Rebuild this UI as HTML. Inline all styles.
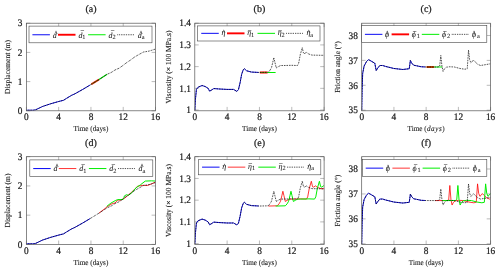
<!DOCTYPE html>
<html><head><meta charset="utf-8"><title>plots</title>
<style>html,body{margin:0;padding:0;background:#fff}svg{display:block;will-change:transform}</style></head>
<body>
<svg width="500" height="272" viewBox="0 0 500 272">
<style>
text{font-family:"Liberation Serif","DejaVu Serif",serif;fill:#1a1a1a;stroke:#1a1a1a;stroke-width:0.22px;text-rendering:geometricPrecision}
.t{font-size:10px}
.ti{font-size:10px}
.l{font-size:7.7px;stroke-width:0.1px}
.m{font-size:7.9px;stroke-width:0.05px}
.s{font-size:6.3px}
.a{font-size:6.4px;stroke-width:0.1px}
</style>
<rect width="500" height="272" fill="#fff"/>
<g>
<path d="M26.40 110.80v-3.9M26.40 23.20v3.9M58.67 110.80v-3.9M58.67 23.20v3.9M90.95 110.80v-3.9M90.95 23.20v3.9M123.22 110.80v-3.9M123.22 23.20v3.9M155.50 110.80v-3.9M155.50 23.20v3.9M26.40 110.80h3.9M155.50 110.80h-3.9M26.40 81.60h3.9M155.50 81.60h-3.9M26.40 52.40h3.9M155.50 52.40h-3.9M26.40 23.20h3.9M155.50 23.20h-3.9" stroke="#777" stroke-width="0.5" fill="none"/>
<clipPath id="c00"><rect x="26.4" y="23.2" width="129.1" height="87.6"/></clipPath>
<g clip-path="url(#c00)" fill="none" stroke-linejoin="round">
<path d="M26.40 110.22L33.26 110.22L35.68 109.78L39.31 108.03L42.54 106.48L50.61 103.79L58.67 101.51L63.52 100.29L66.74 98.24L71.58 95.32L74.81 93.86L82.88 89.34L90.14 85.00" stroke="#1515f5" stroke-width="1.0"/>
<path d="M91.35 84.27L99.02 79.56" stroke="#ff0000" stroke-width="1.9"/>
<path d="M91.35 84.27L99.02 79.56" stroke="rgba(0,238,0,0.55)" stroke-width="1.0"/>
<path d="M99.02 79.56L107.09 74.30" stroke="#00ee00" stroke-width="1.1"/>
<path d="M26.40 110.22L33.26 110.22L35.68 109.78L39.31 108.03L42.54 106.48L50.61 103.79L58.67 101.51L63.52 100.29L66.74 98.24L71.58 95.32L74.81 93.86L82.88 89.34L90.95 84.52L99.02 79.56L107.09 74.30L111.12 72.55L115.16 69.92L119.19 68.17L123.22 65.25L126.45 62.77L130.49 60.08L134.52 57.07L137.51 55.32L139.60 54.15L143.40 52.05L145.82 51.67L149.04 51.09L151.47 50.36L155.50 49.04" stroke="#000" stroke-width="1.0" stroke-dasharray="0.7 0.95"/>
</g>
<rect x="26.40" y="23.20" width="129.10" height="87.60" fill="none" stroke="#555" stroke-width="0.7"/>
<text class="t" transform="translate(26.40 119.60) scale(0.93 1)" text-anchor="middle">0</text>
<text class="t" transform="translate(58.67 119.60) scale(0.93 1)" text-anchor="middle">4</text>
<text class="t" transform="translate(90.95 119.60) scale(0.93 1)" text-anchor="middle">8</text>
<text class="t" transform="translate(123.22 119.60) scale(0.93 1)" text-anchor="middle">12</text>
<text class="t" transform="translate(155.50 119.60) scale(0.93 1)" text-anchor="middle">16</text>
<text class="t" transform="translate(22.50 114.00) scale(0.93 1)" text-anchor="end">0</text>
<text class="t" transform="translate(22.50 84.80) scale(0.93 1)" text-anchor="end">1</text>
<text class="t" transform="translate(22.50 55.60) scale(0.93 1)" text-anchor="end">2</text>
<text class="t" transform="translate(22.50 26.40) scale(0.93 1)" text-anchor="end">3</text>
<text class="ti" x="90.95" y="12.30" text-anchor="middle">(a)</text>
<text class="l" transform="translate(90.95 131.10) scale(0.935 1)" text-anchor="middle">Time (days)</text>
<text class="l" transform="translate(10.00 67.00) rotate(-90) scale(0.975 1)" text-anchor="middle">Displacement (m)</text>
<rect x="29.00" y="26.10" width="123.00" height="16.70" fill="#fff" stroke="#444" stroke-width="0.6"/>
<path d="M32.40 34.75h17.5" stroke="#1515f5" stroke-width="1.05" fill="none"/>
<text class="m" x="52.80" y="37.55"><tspan font-style="italic">d</tspan></text>
<text class="a" x="56.10" y="34.65" text-anchor="middle">^</text>
<path d="M58.00 34.75h17.5" stroke="#ff0000" stroke-width="1.9" fill="none"/>
<text class="m" x="78.40" y="37.55"><tspan font-style="italic">d</tspan><tspan class="s" dy="1.3" dx="0">1</tspan></text>
<text class="a" x="82.40" y="35.25" text-anchor="middle">¯</text>
<path d="M88.10 34.75h17.5" stroke="#00ee00" stroke-width="1.0" fill="none"/>
<text class="m" x="108.50" y="37.55"><tspan font-style="italic">d</tspan><tspan class="s" dy="1.3" dx="0">2</tspan></text>
<text class="a" x="112.50" y="35.25" text-anchor="middle">¯</text>
<path d="M117.40 34.75h17.5" stroke="#000" stroke-width="0.9" fill="none" stroke-dasharray="0.75 1.0"/>
<text class="m" x="137.80" y="37.55"><tspan font-style="italic">d</tspan><tspan class="s" dy="1.3" dx="0">a</tspan></text>
<text class="a" x="141.10" y="34.65" text-anchor="middle">^</text>
</g>
<g>
<path d="M194.80 110.80v-3.9M194.80 23.20v3.9M227.12 110.80v-3.9M227.12 23.20v3.9M259.45 110.80v-3.9M259.45 23.20v3.9M291.78 110.80v-3.9M291.78 23.20v3.9M324.10 110.80v-3.9M324.10 23.20v3.9M194.80 110.04h3.9M324.10 110.04h-3.9M194.80 88.33h3.9M324.10 88.33h-3.9M194.80 66.62h3.9M324.10 66.62h-3.9M194.80 44.91h3.9M324.10 44.91h-3.9M194.80 23.20h3.9M324.10 23.20h-3.9" stroke="#777" stroke-width="0.5" fill="none"/>
<clipPath id="c10"><rect x="194.8" y="23.2" width="129.3" height="87.6"/></clipPath>
<g clip-path="url(#c10)" fill="none" stroke-linejoin="round">
<path d="M194.80 110.04L195.45 99.19L196.42 89.42L198.03 87.24L202.07 85.51L205.31 86.59L208.13 88.33L209.59 91.15L211.20 90.28L213.79 88.55L219.04 88.98L227.12 89.42L233.59 89.42L236.82 91.37L238.44 89.63L240.06 82.90L241.67 74.22L243.29 69.66L244.50 68.79L246.52 70.74L251.37 72.05L258.64 72.44" stroke="#1515f5" stroke-width="1.0"/>
<path d="M259.85 72.48L267.53 72.48" stroke="#ff0000" stroke-width="1.9"/>
<path d="M259.85 72.48L267.53 72.48" stroke="rgba(0,238,0,0.55)" stroke-width="1.0"/>
<path d="M267.53 72.48L275.61 72.48" stroke="#00ee00" stroke-width="1.1"/>
<path d="M194.80 110.04L195.45 99.19L196.42 89.42L198.03 87.24L202.07 85.51L205.31 86.59L208.13 88.33L209.59 91.15L211.20 90.28L213.79 88.55L219.04 88.98L227.12 89.42L233.59 89.42L236.82 91.37L238.44 89.63L240.06 82.90L241.67 74.22L243.29 69.66L244.50 68.79L246.52 70.74L251.37 72.05L259.45 72.48L268.18 72.26L269.96 70.31L271.49 67.71L272.78 62.28L273.83 57.72L274.80 61.84L276.26 67.92L278.04 66.84L280.46 65.53L283.69 65.53L291.78 65.32L297.43 65.53L298.64 63.36L300.26 54.68L302.28 47.73L303.49 53.16L304.71 53.59L306.32 52.29L308.75 54.03L311.98 55.11L324.10 55.33" stroke="#000" stroke-width="1.0" stroke-dasharray="0.7 0.95"/>
</g>
<rect x="194.80" y="23.20" width="129.30" height="87.60" fill="none" stroke="#555" stroke-width="0.7"/>
<text class="t" transform="translate(194.80 119.60) scale(0.93 1)" text-anchor="middle">0</text>
<text class="t" transform="translate(227.12 119.60) scale(0.93 1)" text-anchor="middle">4</text>
<text class="t" transform="translate(259.45 119.60) scale(0.93 1)" text-anchor="middle">8</text>
<text class="t" transform="translate(291.78 119.60) scale(0.93 1)" text-anchor="middle">12</text>
<text class="t" transform="translate(324.10 119.60) scale(0.93 1)" text-anchor="middle">16</text>
<text class="t" transform="translate(190.90 113.24) scale(0.93 1)" text-anchor="end">1</text>
<text class="t" transform="translate(190.90 91.53) scale(0.93 1)" text-anchor="end">1.1</text>
<text class="t" transform="translate(190.90 69.82) scale(0.93 1)" text-anchor="end">1.2</text>
<text class="t" transform="translate(190.90 48.11) scale(0.93 1)" text-anchor="end">1.3</text>
<text class="t" transform="translate(190.90 26.40) scale(0.93 1)" text-anchor="end">1.4</text>
<text class="ti" x="259.45" y="12.30" text-anchor="middle">(b)</text>
<text class="l" transform="translate(259.45 131.10) scale(0.935 1)" text-anchor="middle">Time (days)</text>
<text class="l" transform="translate(170.80 67.00) rotate(-90) scale(0.975 1)" text-anchor="middle">Viscosity (× 100 MPa.s)</text>
<rect x="197.50" y="25.90" width="122.50" height="15.10" fill="#fff" stroke="#444" stroke-width="0.6"/>
<path d="M201.25 33.35h17.5" stroke="#1515f5" stroke-width="1.05" fill="none"/>
<text class="m" x="221.45" y="34.85"><tspan font-style="italic">η</tspan></text>
<text class="a" x="223.65" y="34.15" text-anchor="middle">^</text>
<path d="M227.00 33.35h17.5" stroke="#ff0000" stroke-width="1.9" fill="none"/>
<text class="m" x="247.20" y="34.85"><tspan font-style="italic">η</tspan><tspan class="s" dy="1.8" dx="0">1</tspan></text>
<text class="a" x="249.60" y="34.55" text-anchor="middle">¯</text>
<path d="M257.50 33.35h17.5" stroke="#00ee00" stroke-width="1.0" fill="none"/>
<text class="m" x="277.70" y="34.85"><tspan font-style="italic">η</tspan><tspan class="s" dy="1.8" dx="0">2</tspan></text>
<text class="a" x="280.10" y="34.55" text-anchor="middle">¯</text>
<path d="M286.25 33.35h17.5" stroke="#000" stroke-width="0.9" fill="none" stroke-dasharray="0.75 1.0"/>
<text class="m" x="306.45" y="34.85"><tspan font-style="italic">η</tspan><tspan class="s" dy="1.8" dx="0">a</tspan></text>
<text class="a" x="308.65" y="34.15" text-anchor="middle">^</text>
</g>
<g>
<path d="M361.70 110.80v-3.9M361.70 23.20v3.9M393.93 110.80v-3.9M393.93 23.20v3.9M426.15 110.80v-3.9M426.15 23.20v3.9M458.38 110.80v-3.9M458.38 23.20v3.9M490.60 110.80v-3.9M490.60 23.20v3.9M361.70 110.20h3.9M490.60 110.20h-3.9M361.70 85.30h3.9M490.60 85.30h-3.9M361.70 60.40h3.9M490.60 60.40h-3.9M361.70 35.50h3.9M490.60 35.50h-3.9" stroke="#777" stroke-width="0.5" fill="none"/>
<clipPath id="c20"><rect x="361.7" y="23.2" width="128.9" height="87.6"/></clipPath>
<g clip-path="url(#c20)" fill="none" stroke-linejoin="round">
<path d="M361.70 110.20L362.10 90.28L362.67 73.47L364.12 66.00L366.53 61.52L368.31 59.78L369.76 60.28L374.83 63.26L375.56 67.25L376.20 70.49L377.81 68.00L379.83 65.51L382.65 65.51L385.87 66.50L393.93 68.49L402.79 69.49L409.23 68.74L409.80 64.76L410.36 60.53L411.65 63.02L413.66 65.26L416.48 65.75L421.07 66.75L425.34 66.96" stroke="#1515f5" stroke-width="1.0"/>
<path d="M426.55 67.00L434.21 67.00" stroke="#ff0000" stroke-width="1.9"/>
<path d="M426.55 67.00L434.21 67.00" stroke="rgba(0,238,0,0.55)" stroke-width="1.0"/>
<path d="M434.21 67.00L442.26 67.00" stroke="#00ee00" stroke-width="1.1"/>
<path d="M361.70 110.20L362.10 90.28L362.67 73.47L364.12 66.00L366.53 61.52L368.31 59.78L369.76 60.28L374.83 63.26L375.56 67.25L376.20 70.49L377.81 68.00L379.83 65.51L382.65 65.51L385.87 66.50L393.93 68.49L402.79 69.49L409.23 68.74L409.80 64.76L410.36 60.53L411.65 63.02L413.66 65.26L416.48 65.75L421.07 66.75L426.15 67.00L438.23 67.00L439.68 66.00L440.81 55.55L441.94 66.00L443.07 71.48L444.28 68.99L446.29 67.25L449.51 66.75L454.35 67.00L459.99 68.49L464.82 69.24L467.24 68.74L468.53 50.32L469.65 59.78L470.86 62.77L472.07 61.77L473.36 60.03L475.29 62.02L477.71 64.26L480.45 65.51L484.96 64.76L490.60 63.76" stroke="#000" stroke-width="1.0" stroke-dasharray="0.7 0.95"/>
</g>
<rect x="361.70" y="23.20" width="128.90" height="87.60" fill="none" stroke="#555" stroke-width="0.7"/>
<text class="t" transform="translate(361.70 119.60) scale(0.93 1)" text-anchor="middle">0</text>
<text class="t" transform="translate(393.93 119.60) scale(0.93 1)" text-anchor="middle">4</text>
<text class="t" transform="translate(426.15 119.60) scale(0.93 1)" text-anchor="middle">8</text>
<text class="t" transform="translate(458.38 119.60) scale(0.93 1)" text-anchor="middle">12</text>
<text class="t" transform="translate(490.60 119.60) scale(0.93 1)" text-anchor="middle">16</text>
<text class="t" transform="translate(357.80 113.40) scale(0.93 1)" text-anchor="end">35</text>
<text class="t" transform="translate(357.80 88.50) scale(0.93 1)" text-anchor="end">36</text>
<text class="t" transform="translate(357.80 63.60) scale(0.93 1)" text-anchor="end">37</text>
<text class="t" transform="translate(357.80 38.70) scale(0.93 1)" text-anchor="end">38</text>
<text class="ti" x="426.15" y="12.30" text-anchor="middle">(c)</text>
<text class="l" transform="translate(426.15 131.10) scale(0.935 1)" text-anchor="middle">Time (<tspan font-style="italic" letter-spacing="0.6" dx="0.3">days</tspan>)</text>
<text class="l" transform="translate(340.10 67.00) rotate(-90) scale(0.975 1)" text-anchor="middle">Friction angle (°)</text>
<rect x="361.70" y="25.60" width="125.10" height="16.90" fill="#fff" stroke="#444" stroke-width="0.6"/>
<path d="M364.90 34.35h17.5" stroke="#1515f5" stroke-width="1.05" fill="none"/>
<text class="m" x="385.00" y="37.35"><tspan font-style="italic">ϕ</tspan></text>
<text class="a" x="387.20" y="35.15" text-anchor="middle">^</text>
<path d="M391.60 34.35h17.5" stroke="#ff0000" stroke-width="1.9" fill="none"/>
<text class="m" x="411.70" y="37.35"><tspan font-style="italic">ϕ</tspan><tspan class="s" dy="0.8" dx="0.9">1</tspan></text>
<text class="a" x="414.70" y="35.65" text-anchor="middle">¯</text>
<path d="M421.80 34.35h17.5" stroke="#00ee00" stroke-width="1.0" fill="none"/>
<text class="m" x="441.90" y="37.35"><tspan font-style="italic">ϕ</tspan><tspan class="s" dy="0.8" dx="0.9">2</tspan></text>
<text class="a" x="444.90" y="35.65" text-anchor="middle">¯</text>
<path d="M451.80 34.35h17.5" stroke="#000" stroke-width="0.9" fill="none" stroke-dasharray="0.75 1.0"/>
<text class="m" x="471.90" y="37.35"><tspan font-style="italic">ϕ</tspan><tspan class="s" dy="0.8" dx="0.9">a</tspan></text>
<text class="a" x="474.10" y="35.15" text-anchor="middle">^</text>
</g>
<g>
<path d="M26.40 244.40v-3.9M26.40 156.70v3.9M58.67 244.40v-3.9M58.67 156.70v3.9M90.95 244.40v-3.9M90.95 156.70v3.9M123.22 244.40v-3.9M123.22 156.70v3.9M155.50 244.40v-3.9M155.50 156.70v3.9M26.40 244.40h3.9M155.50 244.40h-3.9M26.40 215.17h3.9M155.50 215.17h-3.9M26.40 185.93h3.9M155.50 185.93h-3.9M26.40 156.70h3.9M155.50 156.70h-3.9" stroke="#777" stroke-width="0.5" fill="none"/>
<clipPath id="c01"><rect x="26.4" y="156.7" width="129.1" height="87.7"/></clipPath>
<g clip-path="url(#c01)" fill="none" stroke-linejoin="round">
<path d="M26.40 243.82L33.26 243.82L35.68 243.38L39.31 241.62L42.54 240.07L50.61 237.38L58.67 235.10L63.52 233.88L66.74 231.83L71.58 228.91L74.81 227.44L82.88 222.91L90.14 218.57" stroke="#1515f5" stroke-width="1.0"/>
<path d="M99.02 213.12L103.94 209.32L108.14 206.10L112.33 203.53L115.08 203.03L117.90 199.82L120.00 200.32L123.55 198.91L126.29 196.81L130.49 193.30L134.68 189.09L137.51 186.37L140.33 185.58L143.80 185.29L147.35 185.52L151.55 183.89L155.50 181.99" stroke="#ff0000" stroke-width="0.8"/>
<path d="M106.68 206.40L110.88 203.12L115.80 200.32L117.90 199.61L122.82 199.53L123.87 197.63L124.44 195.87L126.61 194.70L128.39 195.40L131.94 192.60L136.13 187.69L140.33 184.88L145.25 181.08L151.55 180.82L155.50 181.08" stroke="#00ee00" stroke-width="1.0"/>
<path d="M26.40 243.82L33.26 243.82L35.68 243.38L39.31 241.62L42.54 240.07L50.61 237.38L58.67 235.10L63.52 233.88L66.74 231.83L71.58 228.91L74.81 227.44L82.88 222.91L90.95 218.09L99.02 213.12L107.09 207.86L111.12 206.10L115.16 203.47L119.19 201.72L123.22 198.80L126.45 196.31L130.49 193.62L134.52 190.61L137.51 188.86L139.60 187.69L143.40 185.58L145.82 185.20L149.04 184.62L151.47 183.89L155.50 182.57" stroke="#000" stroke-width="1.0" stroke-dasharray="0.7 0.95"/>
</g>
<rect x="26.40" y="156.70" width="129.10" height="87.70" fill="none" stroke="#555" stroke-width="0.7"/>
<text class="t" transform="translate(26.40 253.50) scale(0.93 1)" text-anchor="middle">0</text>
<text class="t" transform="translate(58.67 253.50) scale(0.93 1)" text-anchor="middle">4</text>
<text class="t" transform="translate(90.95 253.50) scale(0.93 1)" text-anchor="middle">8</text>
<text class="t" transform="translate(123.22 253.50) scale(0.93 1)" text-anchor="middle">12</text>
<text class="t" transform="translate(155.50 253.50) scale(0.93 1)" text-anchor="middle">16</text>
<text class="t" transform="translate(22.50 247.60) scale(0.93 1)" text-anchor="end">0</text>
<text class="t" transform="translate(22.50 218.37) scale(0.93 1)" text-anchor="end">1</text>
<text class="t" transform="translate(22.50 189.13) scale(0.93 1)" text-anchor="end">2</text>
<text class="t" transform="translate(22.50 159.90) scale(0.93 1)" text-anchor="end">3</text>
<text class="ti" x="90.95" y="146.30" text-anchor="middle">(d)</text>
<text class="l" transform="translate(90.95 265.10) scale(0.935 1)" text-anchor="middle">Time (days)</text>
<text class="l" transform="translate(10.00 200.55) rotate(-90) scale(0.975 1)" text-anchor="middle">Displacement (m)</text>
<rect x="29.80" y="159.90" width="123.00" height="16.70" fill="#fff" stroke="#444" stroke-width="0.6"/>
<path d="M33.20 168.55h17.5" stroke="#1515f5" stroke-width="1.05" fill="none"/>
<text class="m" x="53.60" y="171.35"><tspan font-style="italic">d</tspan></text>
<text class="a" x="56.90" y="168.45" text-anchor="middle">^</text>
<path d="M58.80 168.55h17.5" stroke="#ff0000" stroke-width="0.8" fill="none"/>
<text class="m" x="79.20" y="171.35"><tspan font-style="italic">d</tspan><tspan class="s" dy="1.3" dx="0">1</tspan></text>
<text class="a" x="83.20" y="169.05" text-anchor="middle">¯</text>
<path d="M88.90 168.55h17.5" stroke="#00ee00" stroke-width="1.0" fill="none"/>
<text class="m" x="109.30" y="171.35"><tspan font-style="italic">d</tspan><tspan class="s" dy="1.3" dx="0">2</tspan></text>
<text class="a" x="113.30" y="169.05" text-anchor="middle">¯</text>
<path d="M118.20 168.55h17.5" stroke="#000" stroke-width="0.9" fill="none" stroke-dasharray="0.75 1.0"/>
<text class="m" x="138.60" y="171.35"><tspan font-style="italic">d</tspan><tspan class="s" dy="1.3" dx="0">a</tspan></text>
<text class="a" x="141.90" y="168.45" text-anchor="middle">^</text>
</g>
<g>
<path d="M194.80 244.40v-3.9M194.80 156.70v3.9M227.12 244.40v-3.9M227.12 156.70v3.9M259.45 244.40v-3.9M259.45 156.70v3.9M291.78 244.40v-3.9M291.78 156.70v3.9M324.10 244.40v-3.9M324.10 156.70v3.9M194.80 243.64h3.9M324.10 243.64h-3.9M194.80 221.90h3.9M324.10 221.90h-3.9M194.80 200.17h3.9M324.10 200.17h-3.9M194.80 178.43h3.9M324.10 178.43h-3.9M194.80 156.70h3.9M324.10 156.70h-3.9" stroke="#777" stroke-width="0.5" fill="none"/>
<clipPath id="c11"><rect x="194.8" y="156.7" width="129.3" height="87.7"/></clipPath>
<g clip-path="url(#c11)" fill="none" stroke-linejoin="round">
<path d="M194.80 243.64L195.45 232.77L196.42 222.99L198.03 220.82L202.07 219.08L205.31 220.17L208.13 221.90L209.59 224.73L211.20 223.86L213.79 222.12L219.04 222.56L227.12 222.99L233.59 222.99L236.82 224.95L238.44 223.21L240.06 216.47L241.67 207.78L243.29 203.21L244.50 202.34L246.52 204.30L251.37 205.60L258.64 205.99" stroke="#1515f5" stroke-width="1.0"/>
<path d="M268.34 206.03L268.50 206.04L277.23 205.82L279.01 203.86L280.54 201.26L281.84 195.82L282.89 191.26L283.86 195.39L285.31 201.47L287.09 200.39L289.51 199.08L292.74 199.08L300.83 198.87L306.48 199.08L307.70 196.91L309.31 188.22L311.33 181.26L312.54 186.69L313.76 187.13L315.37 185.82L317.80 187.56L321.03 188.65L324.10 188.71" stroke="#ff0000" stroke-width="0.8"/>
<path d="M275.61 205.99L276.58 206.04L285.31 205.82L287.09 203.86L288.62 201.26L289.92 195.82L290.97 191.26L291.94 195.39L293.39 201.47L295.17 200.39L297.59 199.08L300.83 199.08L308.91 198.87L314.56 199.08L315.78 196.91L317.39 188.22L319.41 181.26L320.63 186.69L321.84 187.13L323.45 185.82L324.10 186.29" stroke="#00ee00" stroke-width="1.0"/>
<path d="M194.80 243.64L195.45 232.77L196.42 222.99L198.03 220.82L202.07 219.08L205.31 220.17L208.13 221.90L209.59 224.73L211.20 223.86L213.79 222.12L219.04 222.56L227.12 222.99L233.59 222.99L236.82 224.95L238.44 223.21L240.06 216.47L241.67 207.78L243.29 203.21L244.50 202.34L246.52 204.30L251.37 205.60L259.45 206.04L268.18 205.82L269.96 203.86L271.49 201.26L272.78 195.82L273.83 191.26L274.80 195.39L276.26 201.47L278.04 200.39L280.46 199.08L283.69 199.08L291.78 198.87L297.43 199.08L298.64 196.91L300.26 188.22L302.28 181.26L303.49 186.69L304.71 187.13L306.32 185.82L308.75 187.56L311.98 188.65L324.10 188.87" stroke="#000" stroke-width="1.0" stroke-dasharray="0.7 0.95"/>
</g>
<rect x="194.80" y="156.70" width="129.30" height="87.70" fill="none" stroke="#555" stroke-width="0.7"/>
<text class="t" transform="translate(194.80 253.50) scale(0.93 1)" text-anchor="middle">0</text>
<text class="t" transform="translate(227.12 253.50) scale(0.93 1)" text-anchor="middle">4</text>
<text class="t" transform="translate(259.45 253.50) scale(0.93 1)" text-anchor="middle">8</text>
<text class="t" transform="translate(291.78 253.50) scale(0.93 1)" text-anchor="middle">12</text>
<text class="t" transform="translate(324.10 253.50) scale(0.93 1)" text-anchor="middle">16</text>
<text class="t" transform="translate(190.90 246.84) scale(0.93 1)" text-anchor="end">1</text>
<text class="t" transform="translate(190.90 225.10) scale(0.93 1)" text-anchor="end">1.1</text>
<text class="t" transform="translate(190.90 203.37) scale(0.93 1)" text-anchor="end">1.2</text>
<text class="t" transform="translate(190.90 181.63) scale(0.93 1)" text-anchor="end">1.3</text>
<text class="t" transform="translate(190.90 159.90) scale(0.93 1)" text-anchor="end">1.4</text>
<text class="ti" x="259.45" y="146.30" text-anchor="middle">(e)</text>
<text class="l" transform="translate(259.45 265.10) scale(0.935 1)" text-anchor="middle">Time (days)</text>
<text class="l" transform="translate(170.80 200.55) rotate(-90) scale(0.975 1)" text-anchor="middle">Viscosity (× 100 MPa.s)</text>
<rect x="198.30" y="159.70" width="122.50" height="15.10" fill="#fff" stroke="#444" stroke-width="0.6"/>
<path d="M202.05 167.15h17.5" stroke="#1515f5" stroke-width="1.05" fill="none"/>
<text class="m" x="222.25" y="168.65"><tspan font-style="italic">η</tspan></text>
<text class="a" x="224.45" y="167.95" text-anchor="middle">^</text>
<path d="M227.80 167.15h17.5" stroke="#ff0000" stroke-width="0.8" fill="none"/>
<text class="m" x="248.00" y="168.65"><tspan font-style="italic">η</tspan><tspan class="s" dy="1.8" dx="0">1</tspan></text>
<text class="a" x="250.40" y="168.35" text-anchor="middle">¯</text>
<path d="M258.30 167.15h17.5" stroke="#00ee00" stroke-width="1.0" fill="none"/>
<text class="m" x="278.50" y="168.65"><tspan font-style="italic">η</tspan><tspan class="s" dy="1.8" dx="0">2</tspan></text>
<text class="a" x="280.90" y="168.35" text-anchor="middle">¯</text>
<path d="M287.05 167.15h17.5" stroke="#000" stroke-width="0.9" fill="none" stroke-dasharray="0.75 1.0"/>
<text class="m" x="307.25" y="168.65"><tspan font-style="italic">η</tspan><tspan class="s" dy="1.8" dx="0">a</tspan></text>
<text class="a" x="309.45" y="167.95" text-anchor="middle">^</text>
</g>
<g>
<path d="M361.70 244.40v-3.9M361.70 156.70v3.9M393.93 244.40v-3.9M393.93 156.70v3.9M426.15 244.40v-3.9M426.15 156.70v3.9M458.38 244.40v-3.9M458.38 156.70v3.9M490.60 244.40v-3.9M490.60 156.70v3.9M361.70 243.80h3.9M490.60 243.80h-3.9M361.70 218.87h3.9M490.60 218.87h-3.9M361.70 193.94h3.9M490.60 193.94h-3.9M361.70 169.01h3.9M490.60 169.01h-3.9" stroke="#777" stroke-width="0.5" fill="none"/>
<clipPath id="c21"><rect x="361.7" y="156.7" width="128.9" height="87.7"/></clipPath>
<g clip-path="url(#c21)" fill="none" stroke-linejoin="round">
<path d="M361.70 243.80L362.10 223.86L362.67 207.03L364.12 199.55L366.53 195.07L368.31 193.32L369.76 193.82L374.83 196.81L375.56 200.80L376.20 204.04L377.81 201.55L379.83 199.05L382.65 199.05L385.87 200.05L393.93 202.05L402.79 203.04L409.23 202.30L409.80 198.31L410.36 194.07L411.65 196.56L413.66 198.80L416.48 199.30L421.07 200.30L425.34 200.51" stroke="#1515f5" stroke-width="1.0"/>
<path d="M435.01 200.54L435.17 200.55L447.26 200.55L448.71 199.55L449.84 185.47L450.96 199.55L452.09 205.04L453.30 202.54L455.31 200.80L458.54 200.30L463.37 200.55L469.01 202.05L473.84 202.79L476.26 202.30L477.55 183.85L478.68 193.32L479.89 196.31L481.09 195.31L482.38 193.57L484.32 195.56L486.73 197.81L489.47 199.05L490.60 198.87" stroke="#ff0000" stroke-width="0.8"/>
<path d="M442.26 200.50L443.23 200.55L455.31 200.55L456.76 199.55L457.89 185.47L459.02 199.55L460.15 205.04L461.36 202.54L463.37 200.80L466.59 200.30L471.43 200.55L477.07 202.05L481.90 202.79L484.32 202.30L485.61 183.85L486.73 193.32L487.94 196.31L489.15 195.31L490.44 193.57L490.60 193.74" stroke="#00ee00" stroke-width="1.0"/>
<path d="M361.70 243.80L362.10 223.86L362.67 207.03L364.12 199.55L366.53 195.07L368.31 193.32L369.76 193.82L374.83 196.81L375.56 200.80L376.20 204.04L377.81 201.55L379.83 199.05L382.65 199.05L385.87 200.05L393.93 202.05L402.79 203.04L409.23 202.30L409.80 198.31L410.36 194.07L411.65 196.56L413.66 198.80L416.48 199.30L421.07 200.30L426.15 200.55L438.23 200.55L439.68 199.55L440.81 189.08L441.94 199.55L443.07 205.04L444.28 202.54L446.29 200.80L449.51 200.30L454.35 200.55L459.99 202.05L464.82 202.79L467.24 202.30L468.53 183.85L469.65 193.32L470.86 196.31L472.07 195.31L473.36 193.57L475.29 195.56L477.71 197.81L480.45 199.05L484.96 198.31L490.60 197.31" stroke="#000" stroke-width="1.0" stroke-dasharray="0.7 0.95"/>
</g>
<rect x="361.70" y="156.70" width="128.90" height="87.70" fill="none" stroke="#555" stroke-width="0.7"/>
<text class="t" transform="translate(361.70 253.50) scale(0.93 1)" text-anchor="middle">0</text>
<text class="t" transform="translate(393.93 253.50) scale(0.93 1)" text-anchor="middle">4</text>
<text class="t" transform="translate(426.15 253.50) scale(0.93 1)" text-anchor="middle">8</text>
<text class="t" transform="translate(458.38 253.50) scale(0.93 1)" text-anchor="middle">12</text>
<text class="t" transform="translate(490.60 253.50) scale(0.93 1)" text-anchor="middle">16</text>
<text class="t" transform="translate(357.80 247.00) scale(0.93 1)" text-anchor="end">35</text>
<text class="t" transform="translate(357.80 222.07) scale(0.93 1)" text-anchor="end">36</text>
<text class="t" transform="translate(357.80 197.14) scale(0.93 1)" text-anchor="end">37</text>
<text class="t" transform="translate(357.80 172.21) scale(0.93 1)" text-anchor="end">38</text>
<text class="ti" x="426.15" y="146.30" text-anchor="middle">(f)</text>
<text class="l" transform="translate(426.15 265.10) scale(0.935 1)" text-anchor="middle">Time (days)</text>
<text class="l" transform="translate(340.10 200.55) rotate(-90) scale(0.975 1)" text-anchor="middle">Friction angle (°)</text>
<rect x="362.50" y="159.40" width="124.30" height="16.90" fill="#fff" stroke="#444" stroke-width="0.6"/>
<path d="M365.70 168.15h17.5" stroke="#1515f5" stroke-width="1.05" fill="none"/>
<text class="m" x="385.80" y="171.15"><tspan font-style="italic">ϕ</tspan></text>
<text class="a" x="388.00" y="168.95" text-anchor="middle">^</text>
<path d="M392.40 168.15h17.5" stroke="#ff0000" stroke-width="0.8" fill="none"/>
<text class="m" x="412.50" y="171.15"><tspan font-style="italic">ϕ</tspan><tspan class="s" dy="0.8" dx="0.9">1</tspan></text>
<text class="a" x="415.50" y="169.45" text-anchor="middle">¯</text>
<path d="M422.60 168.15h17.5" stroke="#00ee00" stroke-width="1.0" fill="none"/>
<text class="m" x="442.70" y="171.15"><tspan font-style="italic">ϕ</tspan><tspan class="s" dy="0.8" dx="0.9">2</tspan></text>
<text class="a" x="445.70" y="169.45" text-anchor="middle">¯</text>
<path d="M452.60 168.15h17.5" stroke="#000" stroke-width="0.9" fill="none" stroke-dasharray="0.75 1.0"/>
<text class="m" x="472.70" y="171.15"><tspan font-style="italic">ϕ</tspan><tspan class="s" dy="0.8" dx="0.9">a</tspan></text>
<text class="a" x="474.90" y="168.95" text-anchor="middle">^</text>
</g>
</svg>
</body></html>
